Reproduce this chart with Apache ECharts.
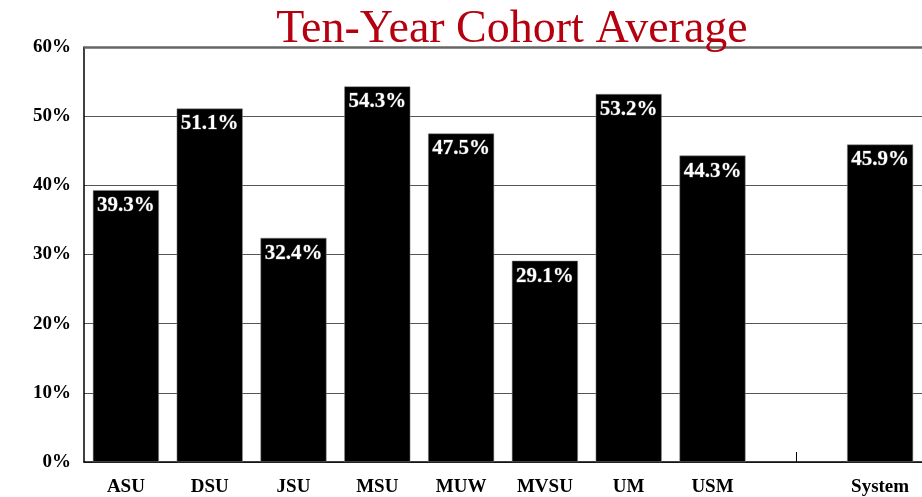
<!DOCTYPE html>
<html>
<head>
<meta charset="utf-8">
<script src="https://cdn.jsdelivr.net/npm/echarts@6/dist/echarts.min.js"></script>
<style>
  html, body { margin: 0; padding: 0; background: #fff; }
  #main { width: 922px; height: 497px; }
</style>
</head>
<body>
<div id="main"></div>
<script>
var schools = ['ASU', 'DSU', 'JSU', 'MSU', 'MUW', 'MVSU', 'UM', 'USM', '', 'System'];
var cohortAvg = [39.3, 51.1, 32.4, 54.3, 47.5, 29.1, 53.2, 44.3, null, 45.9];
var yTicks = [0, 10, 20, 30, 40, 50, 60];

var chart = echarts.init(document.getElementById('main'));
var serif = '"Liberation Serif", "DejaVu Serif", serif';

var option = {
    animation: false,
    title: {
        text: 'Ten-Year Cohort Average',
        left: 507,
        textAlign: 'center',
        top: 2,
        textStyle: { fontFamily: serif, fontWeight: 'normal', fontSize: 46, color: '#b5000f' }
    },
    grid: { left: 84, top: 47, right: -2, bottom: 35, containLabel: false },
    xAxis: {
        type: 'category',
        data: schools,
        axisLine: { lineStyle: { color: '#000', width: 1.5 } },
        axisTick: { show: true, alignWithLabel: true, inside: true, length: 10,
                    interval: function (i) { return i === 8; },
                    lineStyle: { color: '#000' } },
        axisLabel: { interval: 0, margin: 16, fontFamily: serif, fontWeight: 'bold', fontSize: 19, color: '#000' }
    },
    yAxis: {
        type: 'value',
        min: yTicks[0],
        max: yTicks[yTicks.length - 1],
        interval: 10,
        axisLine: { show: true, lineStyle: { color: '#000', width: 1.5 } },
        axisTick: { show: false },
        axisLabel: { margin: 13, formatter: '{value}%', fontFamily: serif, fontWeight: 'bold', fontSize: 19, color: '#000' },
        splitLine: {
            lineStyle: {
                color: ['#555', '#555', '#555', '#555', '#555', '#555', '#777'],
                width: 1
            }
        }
    },
    series: [{
        type: 'bar',
        data: cohortAvg,
        barWidth: 66,
        itemStyle: { color: '#000', borderColor: '#888', borderWidth: 0.5 },
        label: {
            show: true,
            position: 'insideTop',
            distance: 5,
            formatter: function (p) { return p.value.toFixed(1) + '%'; },
            fontFamily: serif,
            fontWeight: 'bold',
            fontSize: 21,
            color: '#fff',
            textBorderColor: '#444',
            textBorderWidth: 1
        }
    }, {
        // heavier frame line along the 60% top
        type: 'line',
        data: [],
        markLine: {
            silent: true,
            symbol: 'none',
            label: { show: false },
            lineStyle: { color: '#666', width: 2.5, type: 'solid' },
            data: [{ yAxis: yTicks[yTicks.length - 1] }]
        }
    }]
};
chart.setOption(option);
</script>
</body>
</html>
